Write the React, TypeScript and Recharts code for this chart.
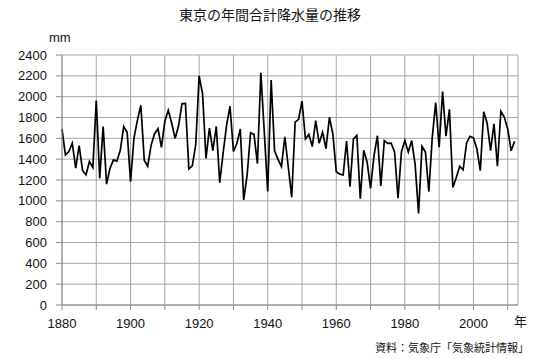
import React from 'react';
import { LineChart, Line, XAxis, YAxis, CartesianGrid } from 'recharts';

const startYear = 1880;
const precipitation = [
  1688, 1441, 1473, 1552, 1313, 1530, 1292, 1249, 1377, 1320,
  1962, 1216, 1714, 1160, 1312, 1393, 1381, 1485, 1714, 1658,
  1184, 1605, 1774, 1917, 1388, 1332, 1535, 1645, 1692, 1514,
  1765, 1870, 1745, 1600, 1720, 1934, 1935, 1306, 1336, 1538,
  2200, 2028, 1408, 1698, 1481, 1714, 1175, 1460, 1725, 1908,
  1474, 1550, 1690, 1008, 1250, 1654, 1638, 1358, 2230, 1660,
  1090, 2160, 1480, 1398, 1330, 1615, 1325, 1035, 1755, 1782,
  1958, 1594, 1638, 1521, 1771, 1554, 1658, 1502, 1802, 1640,
  1280, 1256, 1248, 1573, 1135, 1594, 1628, 1020, 1485, 1370,
  1120, 1433, 1625, 1144, 1578, 1552, 1554, 1470, 1025, 1469,
  1579, 1469, 1579, 1347, 880, 1524, 1469, 1089, 1611, 1942,
  1514, 2049, 1620, 1878, 1128, 1224, 1331, 1298, 1556, 1620,
  1605, 1500, 1290, 1855, 1745, 1482, 1740, 1332, 1860, 1805,
  1690, 1480, 1572,
];
const xTicks = [1880, 1890, 1900, 1910, 1920, 1930, 1940, 1950, 1960, 1970, 1980, 1990, 2000, 2010];
const xLabelTicks = [1880, 1900, 1920, 1940, 1960, 1980, 2000];
const yTicks = [0, 200, 400, 600, 800, 1000, 1200, 1400, 1600, 1800, 2000, 2200, 2400];

const title = '東京の年間合計降水量の推移';
const unitLabel = 'mm';
const yearLabel = '年';
const sourceLabel = '資料：気象庁「気象統計情報」';

const data = precipitation.map((v, i) => ({ year: startYear + i, value: v }));

const latin = '"Liberation Sans", Arial, Helvetica, sans-serif';
const cjk = '"Noto Sans CJK JP", "Liberation Sans", sans-serif';

export default function App() {
  return (
    <div style={{ position: 'absolute', left: 0, top: 0, width: 540, height: 359, background: '#fff' }}>
      <LineChart
        width={540}
        height={359}
        data={data}
        margin={{ top: 55, right: 22, bottom: 0, left: 0 }}
      >
        <CartesianGrid stroke="#a6a6a6" strokeWidth={1} />
        <XAxis
          dataKey="year"
          type="number"
          domain={[1880, 2013]}
          ticks={xTicks}
          interval={0}
          height={54}
          tickSize={5}
          tickMargin={9}
          stroke="#8c8c8c"
          tick={{ fill: '#111', fontSize: 13, fontFamily: latin }}
          tickFormatter={(v: number) => (xLabelTicks.includes(v) ? String(v) : '')}
        />
        <YAxis
          type="number"
          domain={[0, 2400]}
          ticks={yTicks}
          interval={0}
          width={62}
          tickSize={6}
          tickMargin={9}
          stroke="#8c8c8c"
          tick={{ fill: '#111', fontSize: 13, fontFamily: latin }}
        />
        <Line
          type="linear"
          dataKey="value"
          stroke="#000"
          strokeWidth={1.7}
          dot={false}
          isAnimationActive={false}
        />
      </LineChart>
      <div style={{ position: 'absolute', left: 0, width: 540, top: 5, textAlign: 'center', fontFamily: cjk, fontSize: 14, color: '#111', lineHeight: '18px' }}>
        {title}
      </div>
      <div style={{ position: 'absolute', left: 49, top: 30, fontFamily: latin, fontSize: 13, color: '#111', lineHeight: '16px' }}>
        {unitLabel}
      </div>
      <div style={{ position: 'absolute', left: 514, top: 313, fontFamily: cjk, fontSize: 13, color: '#111', lineHeight: '16px' }}>
        {yearLabel}
      </div>
      <div style={{ position: 'absolute', right: 11, top: 340, fontFamily: cjk, fontSize: 11, color: '#111', lineHeight: '14px', whiteSpace: 'nowrap' }}>
        {sourceLabel}
      </div>
    </div>
  );
}
